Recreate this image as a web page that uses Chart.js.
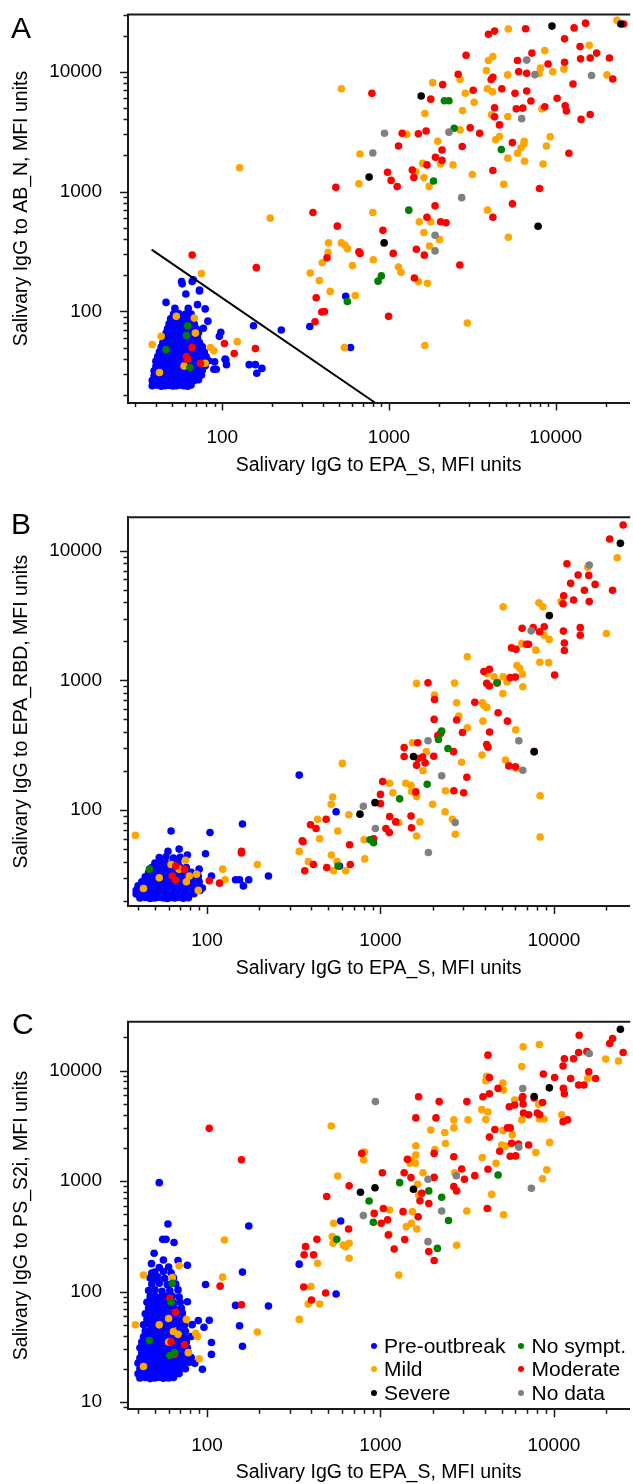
<!DOCTYPE html>
<html lang="en">
<head>
<meta charset="UTF-8">
<title>Salivary IgG vs EPA_S</title>
<script src="https://cdn.jsdelivr.net/npm/chart.js"></script>
<style>
  html, body { margin: 0; padding: 0; background: #fff; }
  body { position: relative; width: 633px; height: 1484px; overflow: hidden;
         font-family: "Liberation Sans", Arial, sans-serif; color: #000; }
  canvas { position: absolute; left: 0; }
  .tag { position: absolute; font-size: 30px; line-height: 30px; }
  .item { position: absolute; font-size: 21px; line-height: 24px; white-space: nowrap; }
  .dot { position: absolute; width: 6px; height: 6px; border-radius: 50%; }
</style>
</head>
<body>
<canvas id="chartA" width="633" height="490" style="top:0px"></canvas>
<canvas id="chartB" width="633" height="490" style="top:500px"></canvas>
<canvas id="chartC" width="633" height="489" style="top:995px"></canvas>
<div class="tag" style="left:11px;top:13px">A</div>
<div class="tag" style="left:11px;top:509px">B</div>
<div class="tag" style="left:12px;top:1009px">C</div>
<div id="legend"></div>

<script>
// ---- categories / colours ----
const categories = ['Pre-outbreak', 'No sympt.', 'Mild', 'Moderate', 'Severe', 'No data'];
const categoryColors = ['#0000ff', '#008000', '#ffa500', '#ff0000', '#000000', '#808080'];

const xTitle = 'Salivary IgG to EPA_S, MFI units';
const aYTitle = 'Salivary IgG to AB_N, MFI units';
const bYTitle = 'Salivary IgG to EPA_RBD, MFI units';
const cYTitle = 'Salivary IgG to PS_S2i, MFI units';

// axis ranges (log scales)
const aXRange = [27.2, 27600], aYRange = [17.4, 30000];
const bXRange = [35, 27200],   bYRange = [18.2, 18100];
const cXRange = [35, 27200],   cYRange = [8.6, 27700];

// ---- panel A: AB_N vs EPA_S ----
const aCutoff = [[37.7, 328], [822, 17.4]];

const aPre = [
  [550,134],[335,75],[226,70],[154,76],[588,50],[145,36],[158,36],[173,33.5],[161,30.5],[98,67],
  [96,62],[104,40],[106,36],[92,33],[89,33],[90,38],[105,39.5],[82,83],[79,105],[71,114],
  [73,148],[66,178],[57,178],[57.5,170],[60.5,140],[46,119],[52,106],[62.5,106],[67,184],[73,151],
  [38,24],[40.5,24.3],[43,23.8],[45.5,24],[48,24.2],[50.5,23.9],[53,24],[56,24.3],[59,24],[62,23.8],[65,24.4],
  [38,26.5],[40.5,26.8],[43,26.4],[45.5,26.5],[48,26.9],[50.5,26.5],[53,26.3],[56,26.7],[59,26.5],[62,26.4],[65,26.8],[68,26.5],[72,26.9],
  [39,29],[41.5,29.3],[44,28.8],[46.5,29],[49,29.4],[52,29],[55,28.8],[58,29.2],[61,29],[64,29.3],[67,28.9],[71,29],[75,29.5],
  [39,32],[41.5,32.4],[44,31.8],[46.5,32],[49,32.3],[52,32],[55,31.7],[58,32.2],[61,32],[64,32.4],[67,31.8],[71,32],[76,32.5],
  [40,35],[42.5,35.3],[45,34.8],[48,35],[51,35.4],[54,35],[57,34.7],[60,35.2],[63,35],[66,35.5],[70,34.8],[74,35],[79,35.3],
  [40,38.5],[43,38.9],[46,38.3],[49,38.5],[52,39],[55,38.4],[58,38.5],[61,38.9],[64,38.4],[68,38.5],[72,39],[77,38.5],[83,38.8],
  [41,42],[44,42.4],[47,41.8],[50,42],[53,42.5],[56,42],[59,41.7],[62,42.3],[66,42],[70,42.5],[75,41.8],[80,42],
  [42,46],[45,46.4],[48,45.8],[51,46],[54,46.6],[57,46],[60,45.7],[64,46.3],[68,46],[73,46.5],[78,45.8],
  [43,50.5],[46,51],[49,50.2],[52,50.5],[55,51],[58,50.4],[62,50.5],[66,51],[70,50.3],[76,50.8],
  [44,55],[47,55.6],[50,54.8],[53,55],[56,55.5],[60,55],[64,54.7],[68,55.4],[73,55],
  [45,60],[48,60.6],[51,59.7],[54,60],[58,60.5],[62,60],[66,59.8],[71,60.4],
  [46,66],[49,66.6],[52,65.6],[55,66],[59,66.7],[63,66],[67,65.5],[72,66.3],
  [47,72],[50,72.7],[53,71.6],[57,72],[61,72.8],[65,72],[70,71.5],[77,72.4],
  [48,79],[51,79.8],[55,78.6],[59,79],[63,79.6],[68,78.7],
  [49,87],[53,87.8],[57,86.5],[62,87],[67,87.6],
  [51,95],[55,95.8],[60,94.5],[65,95]
];
const aNoSympt = [[2150,5720],[2290,5720],[2460,3370],[4720,2240],[1850,1225],[1315,700],[900,198],[860,179],
  [563,121],[46,48],[62,76],[61,63],[64,34]];
const aMild = [
  [23300,26800],[5200,22700],[8600,15000],[15900,16600],[4200,13400],[3950,12400],[3840,10200],[2670,8600],
  [5150,9400],[8100,10700],[7950,9660],[9600,10000],[11200,10500],[20300,9400],[1830,8100],[3900,7200],
  [4170,6800],[2870,6600],[518,7200],[3240,5550],[2760,4750],[1640,4480],[4120,4370],[5160,4230],
  [8270,4900],[2670,3270],[1280,3000],[4600,2880],[4370,2700],[9260,2860],[6470,2630],[6440,2490],
  [1960,2630],[8800,2400],[6180,2310],[5900,2090],[670,2060],[5160,1900],[6500,1790],[8400,1700],
  [1590,1720],[2040,1700],[2420,1670],[3160,1390],[1450,1460],[127,1580],[1620,1310],[1740,1100],
  [4880,1150],[660,1160],[800,670],[3900,700],[1780,560],[1520,560],[194,600],[1620,455],
  [2010,397],[5200,416],[434,373],[518,373],[545,356],[563,334],[431,310],[1750,352],
  [398,255],[604,242],[805,270],[1140,235],[1180,212],[337,209],[382,181],[1505,177],
  [1700,172],[444,147],[628,136],[75,207],[2950,80],[540,50],[1640,52],[123,56],
  [38,53],[43,62],[53,91],[68,88],[69,66],[85,50],[89,47],[59,35],[42,31],[79,37]
];
const aModerate = [
  [3950,20500],[4300,21800],[6600,22800],[11300,18800],[12900,23200],[15100,25400],[14000,16200],[17600,14300],
  [14100,12800],[16100,13000],[21000,13000],[22000,8700],[12700,7900],[10200,6000],[11400,5200],[11600,4700],
  [14200,4000],[16100,4400],[11300,12000],[9000,11600],[7200,14300],[5900,12400],[6000,10000],[6700,9700],
  [4750,7200],[4200,9000],[4100,8600],[5700,6600],[6700,6900],[7100,5700],[3200,7000],[2600,9500],
  [2100,7800],[2900,13700],[790,6600],[1780,5900],[4300,5000],[4300,4200],[4600,3600],[5800,4900],
  [6350,4970],[8600,5100],[3070,3400],[3500,3070],[1200,3070],[1500,3030],[1670,3200],[5500,2560],
  [1140,2400],[2750,2380],[2080,2220],[12000,2090],[1900,1930],[2080,1820],[1690,1670],[980,1450],
  [1380,1510],[1410,1310],[4200,1500],[1030,1240],[1120,1100],[480,1085],[8000,1060],[350,670],
  [5500,790],[1890,760],[4200,610],[1690,610],[2040,560],[2200,550],[490,515],[920,475],
  [660,315],[670,305],[1060,305],[1460,330],[1630,295],[425,280],[66,296],[2660,244],
  [160,232],[1420,190],[366,130],[395,99],[410,100],[360,82],[995,91],[158,49],
  [118,44.5],[103,54],[66,50],[61,42],[62,40],[74,37],[25600,25000]
];
const aSevere = [[9500,24000],[24600,25000],[1560,6270],[760,1320],[935,373],[7840,514]];
const aNoData = [[6700,12500],[7500,9450],[16400,9300],[6250,4060],[2290,3130],[940,3070],[800,2100],
  [2730,890],[1890,432],[1890,320]];

// ---- panel B: EPA_RBD vs EPA_S ----
const bPre = [
  [340,186],[555,97],[160,78],[104,67],[62,69],[98,46],[69,50],[59.5,48],[90,35],[94,25],
  [106,31],[146,29],[154,29],[174,29],[162,26],[226,31],[580,37],[77,45],
  [41,21],[44,21.2],[47,20.8],[50,21],[53,21.3],[56,21],[59,20.8],[62,21.2],[65,21],[69,21.3],[73,20.9],[78,21.1],
  [39,22.5],[42,22.8],[45,22.3],[48,22.5],[51,22.9],[54,22.4],[57,22.5],[60,22.8],[63,22.3],[66,22.6],[70,22.5],[74,22.9],[79,22.4],[84,22.6],
  [39,24],[42,24.3],[45,23.8],[48,24],[51,24.4],[54,23.9],[57,24],[60,24.3],[63,23.8],[66,24.1],[70,24],[74,24.4],[79,23.9],[85,24.2],[91,24],
  [40,26],[43,26.3],[46,25.8],[49,26],[52,26.4],[55,25.9],[58,26],[61,26.4],[64,25.8],[68,26.1],[72,26],[77,26.4],[83,25.9],[90,26.2],
  [42,28],[45,28.4],[48,27.8],[51,28],[54,28.5],[57,27.9],[60,28],[63,28.4],[67,27.8],[71,28.2],[76,28],[82,28.5],[90,28.1],
  [44,30.5],[47,30.9],[50,30.2],[53,30.5],[56,31],[59,30.4],[63,30.5],[67,30.9],[71,30.3],[76,30.6],[82,30.5],[89,30.8],
  [46,33],[49,33.4],[52,32.7],[55,33],[58,33.5],[62,32.9],[66,33],[70,33.4],[75,32.8],[81,33.1],
  [48,36],[51,36.5],[54,35.7],[57,36],[61,36.5],[65,35.8],[70,36.2],[76,36],
  [50,39],[54,39.5],[58,38.7],[63,39.2],[68,39],
  [53,43],[58,43.6],[64,42.7],[70,43.2]
];
const bNoSympt = [[2255,406],[2160,350],[2450,298],[1860,158],[1290,122],[870,59],[913,56],[570,37],[4700,960],[46.5,35]];
const bMild = [
  [23200,8830],[20100,2300],[15700,7440],[8200,3970],[8650,3690],[11000,4050],[5100,3690],[8800,2230],
  [9400,2070],[6530,1920],[7870,1710],[8300,1380],[9330,1370],[6130,1300],[6360,1240],[6590,1120],
  [6620,894],[5100,1067],[5370,971],[4520,1067],[4720,971],[5080,793],[3170,1520],[4110,1130],
  [3870,673],[3950,640],[4110,619],[2750,672],[2830,530],[3900,485],[3170,431],[6030,415],
  [3850,266],[5260,243],[6080,210],[1615,948],[2675,953],[2050,770],[1530,330],[1840,282],
  [1760,201],[2940,234],[1500,155],[1510,139],[1400,161],[1600,134],[1616,127],[2000,111],
  [2370,141],[1690,81],[1615,63],[2360,97],[2600,85],[2700,65],[1130,161],[1180,136],
  [1275,80],[805,59],[812,42],[657,92],[567,69],[562,40],[537,34],[530,126],
  [520,111],[603,229],[434,85],[446,60],[521,45],[340,48],[384,40],[630,34],
  [8330,129],[8330,62],[38.6,64],[43,24.8],[53,30],[62,38],[69,35],[75,41],
  [76,28],[79,31],[89,24],[87,32],[123,35],[127,29],[195,38]
];
const bModerate = [
  [25100,15800],[21000,12300],[11900,7940],[13800,6500],[12500,5600],[15900,6450],[17300,5500],[15000,4950],
  [21800,4950],[11400,4500],[13000,4165],[16000,4050],[11300,3900],[7600,2550],[8800,2590],[8270,2370],
  [6560,2520],[6950,1900],[7150,1900],[11350,2400],[14200,2550],[14200,2230],[11500,1940],[11500,1700],
  [10100,1100],[5700,1780],[6050,1740],[3950,1170],[4250,1220],[5600,1050],[6000,1060],[4100,948],
  [4250,905],[4720,955],[1880,957],[2050,712],[3500,677],[2040,500],[2750,495],[4770,563],
  [5400,485],[4260,400],[2970,396],[4100,320],[4170,305],[2140,375],[2220,390],[1640,330],
  [1370,303],[1370,259],[1650,250],[1750,256],[2030,260],[1810,231],[1615,222],[2640,282],
  [3150,179],[2650,141],[3020,136],[1600,138],[1030,166],[1000,132],[1000,112],[1130,89],
  [1225,81],[1075,72],[1125,67],[1500,90],[1510,73],[486,85],[395,77],[425,72],
  [354,58],[358,57],[664,54],[914,60],[411,38],[490,36],[366,34],[670,38],
  [66,37],[74,35],[63,31],[66,28.7],[118,27.3],[103,28.5],[158,46.6],[158,48],
  [7700,282],[6000,216],[5500,219]
];
const bSevere = [[24200,11400],[9420,3160],[1550,259],[930,114],[762,93],[7700,282]];
const bNoData = [[16000,7750],[7400,2410],[6280,342],[6620,203],[2255,184],[1880,342],[797,107],
  [935,72],[1890,47],[2700,80]];

// ---- panel C: PS_S2i vs EPA_S ----
const cPre = [
  [340,177],[590,435],[555,95],[226,74],[146,75],[154,49],[160,32],[160,150],[174,392],[98,116],
  [103,55],[106,34.6],[106,27],[96,47.6],[94,19.8],[89,54.6],[53,968],[59.5,409],[55.5,297],[58,297],
  [64.5,278],[56,193],[49.5,222],[47.8,179],[68,191],[77,173],[48,147],[49,128],
  [41,16.5],[44,16.7],[47,16.3],[50,16.5],[53,16.8],[56,16.4],[60,16.5],[64,16.7],
  [40,18],[43,18.3],[46,17.8],[49,18],[52,18.4],[55,17.9],[58,18],[61,18.3],[65,17.8],[69,18.1],
  [41,20],[44,20.3],[47,19.8],[50,20],[53,20.4],[56,19.8],[59,20],[62,20.3],[66,19.8],[70,20.1],[75,20],
  [40,22.5],[43,22.8],[46,22.3],[49,22.5],[52,22.9],[55,22.3],[58,22.5],[61,22.8],[64,22.3],[68,22.6],[73,22.5],[79,22.9],[85,22.4],
  [41,25],[44,25.4],[47,24.8],[50,25],[53,25.4],[56,24.8],[59,25],[62,25.4],[66,24.8],[70,25.2],[75,25],[81,25.3],
  [42,28],[45,28.4],[48,27.7],[51,28],[54,28.5],[57,27.8],[60,28],[64,28.4],[68,27.8],[73,28.2],[78,28],
  [41,31],[44,31.5],[47,30.7],[50,31],[53,31.5],[56,30.8],[59,31],[63,31.4],[67,30.8],[72,31.2],[77,31],
  [42,35],[45,35.5],[48,34.6],[51,35],[54,35.6],[57,34.7],[61,35],[65,35.5],[70,34.8],[76,35.2],
  [43,39],[46,39.6],[49,38.6],[52,39],[55,39.7],[59,38.7],[63,39],[68,39.5],[74,38.8],[81,39.2],
  [44,44],[47,44.7],[50,43.5],[53,44],[56,44.8],[60,43.6],[64,44],[69,44.6],[75,43.8],
  [43,50],[46,50.8],[49,49.4],[52,50],[55,50.8],[59,49.5],[63,50],[68,50.7],[74,49.6],[82,50.2],
  [45,56],[48,56.8],[51,55.3],[54,56],[58,56.9],[62,55.4],[67,56],[73,56.6],
  [44,63],[47,64],[50,62.2],[53,63],[57,64],[61,62.3],[66,63],[72,63.8],
  [46,71],[49,72],[52,70.2],[56,71],[60,72],[65,70.3],[71,71],
  [45,80],[48,81],[51,79],[55,80],[59,81.2],[64,79.2],[70,80],[77,80.8],
  [47,90],[50,91.3],[54,89],[58,90],[63,91.2],[69,89.3],
  [46,102],[50,104],[55,100.5],[61,102],[68,103.5],
  [48,117],[53,119],[59,115.5],[66,117],
  [47,133],[52,135],[57,131],[64,133],
  [50,150],[56,152],[62,148],
  [53,165],[60,167]
];
const cNoSympt = [[1290,968],[4770,1135],[1900,815],[2255,714],[860,661],[910,424],[2470,440],[560,297],
  [2130,246],[46.5,36],[63,119],[62,80],[61,26.4],[65,28]];
const cMild = [
  [19900,12700],[23600,12200],[15700,8470],[6650,16400],[6530,10900],[8250,17200],[4100,8900],[4050,8080],
  [4170,4220],[4050,3600],[3840,4430],[5080,7700],[5130,6660],[5940,5420],[8180,4950],[8250,3650],
  [8780,3650],[11100,3990],[9450,2240],[9100,1265],[8600,1050],[7870,1810],[6530,3580],[5760,2620],
  [5080,2860],[5000,2120],[5250,2070],[4640,1450],[3860,1630],[4380,758],[5130,495],[3150,536],
  [3200,3580],[2650,3580],[2650,3030],[2370,2190],[2350,2750],[1950,2900],[2060,1925],[1600,2090],
  [1600,1720],[1510,1550],[1480,1450],[1590,1450],[1760,1190],[1640,934],[1660,752],[2680,1190],
  [1530,529],[1510,415],[1410,387],[1620,368],[1130,548],[2750,262],[1275,141],[1120,330],
  [810,1830],[800,1550],[567,1110],[520,3150],[537,415],[527,315],[533,274],[610,264],
  [630,255],[660,274],[660,200],[434,180],[397,111],[383,77],[446,77],[340,56],
  [195,43],[126,293],[123,135],[38.6,50],[43,141],[43,21],[63,134],[69,171],
  [53,50],[60,57],[64,43.5],[68,41],[76,56],[86,42],[88,39],[78,28],[90,24.6],[60,35]
];
const cModerate = [
  [25100,14600],[21800,19500],[21000,17600],[14000,20900],[13900,14600],[15500,14900],[11500,12800],[11300,11000],
  [13000,12800],[8700,9300],[10100,8650],[12500,8470],[15900,9770],[17400,8470],[14900,7400],[13900,7400],
  [11350,6900],[11500,6170],[11300,3450],[12000,3580],[4170,13800],[4250,8650],[3900,5800],[4250,6170],
  [4770,6900],[5530,4710],[5940,4880],[6620,5820],[6650,4980],[6680,4130],[7160,3980],[8030,4130],
  [8290,3990],[8610,5130],[7700,5660],[6560,5620],[5400,3030],[5600,3030],[4570,2930],[4250,2500],
  [4870,1860],[5600,1680],[6030,1690],[5700,2200],[6240,2160],[7160,2120],[4170,1280],[4130,564],
  [3150,5240],[3500,1120],[3050,1040],[2940,1285],[2650,1660],[2650,890],[2750,815],[2180,5240],
  [2090,3730],[2040,1780],[1660,5800],[1600,3730],[1430,1575],[1500,1075],[1370,1190],[2040,1080],
  [1730,775],[1690,662],[1650,475],[1900,627],[1350,529],[1380,296],[1900,230],[2040,191],
  [1025,1190],[660,905],[655,368],[490,726],[780,1780],[1040,565],[920,510],[1100,446],
  [1110,325],[1200,243],[1010,415],[430,297],[363,215],[411,215],[370,255],[361,110],
  [400,84],[483,97],[119,112],[103,3000],[158,1560],[158,76],[61,87],[66,65],
  [62,35],[65,27],[74,33]
];
const cSevere = [[24200,23700],[9420,6980],[7700,5820],[767,792],[930,871],[1550,843]];
const cNoData = [[16000,14300],[6620,6890],[6280,2030],[7420,860],[935,5240],[2740,1120],[1880,1040],
  [2255,536],[797,487],[1880,283]];

// ---- helpers ----
Chart.defaults.font.family = '"Liberation Sans", Arial, sans-serif';
Chart.defaults.color = '#000';
const FRAME = '#1a1a1a';

function isDecade(v) {
  const l = Math.log10(v);
  return Math.abs(l - Math.round(l)) < 1e-9;
}

// 1..9 x 10^n tick values inside the axis range
function logTicks(min, max) {
  const out = [];
  for (let e = Math.floor(Math.log10(min)); e <= Math.ceil(Math.log10(max)); e++) {
    for (let d = 1; d <= 9; d++) {
      const v = d * Math.pow(10, e);
      if (v >= min && v <= max) out.push(v);
    }
  }
  return out;
}

// top frame line + short/long tick marks
const frameTicks = {
  id: 'frameTicks',
  afterDraw(chart) {
    const { ctx, chartArea: a, scales: { x, y } } = chart;
    ctx.save();
    ctx.strokeStyle = FRAME;
    ctx.lineWidth = 2;
    ctx.beginPath();
    ctx.moveTo(a.left - 1, a.top);
    ctx.lineTo(a.right + 1, a.top);
    ctx.stroke();
    ctx.lineWidth = 1.5;
    x.ticks.forEach(t => {
      const px = Math.round(x.getPixelForValue(t.value)) + 0.5;
      const len = isDecade(t.value) ? 8 : 4.5;
      ctx.beginPath();
      ctx.moveTo(px, a.bottom);
      ctx.lineTo(px, a.bottom + len);
      ctx.stroke();
    });
    y.ticks.forEach(t => {
      const py = Math.round(y.getPixelForValue(t.value)) + 0.5;
      const len = isDecade(t.value) ? 8 : 4.5;
      ctx.beginPath();
      ctx.moveTo(a.left, py);
      ctx.lineTo(a.left - len, py);
      ctx.stroke();
    });
    ctx.restore();
  }
};

function pointSet(label, data, color) {
  return {
    label, data,
    backgroundColor: color, borderColor: color,
    pointBackgroundColor: color, pointBorderWidth: 0,
    pointRadius: 3.8, pointHoverRadius: 3.8,
    showLine: false, clip: false
  };
}

// top-most dataset first (Chart.js draws index 0 last)
function panelSets(pre, noSympt, mild, moderate, severe, noData) {
  const byCat = [pre, noSympt, mild, moderate, severe, noData];
  return [4, 5, 1, 3, 2, 0].map(i => pointSet(categories[i], byCat[i], categoryColors[i]));
}

function makePanel(id, p) {
  const axisTicks = () => ({
    autoSkip: false, maxRotation: 0, minRotation: 0,
    font: { size: 19 }, color: '#000',
    callback: v => isDecade(v) ? String(Math.round(v)) : ''
  });
  return new Chart(document.getElementById(id), {
    type: 'scatter',
    data: { datasets: p.datasets },
    options: {
      responsive: false,
      animation: false,
      events: [],
      layout: { padding: { top: p.padTop, left: 0, right: 0, bottom: 0 } },
      plugins: { legend: { display: false }, tooltip: { enabled: false } },
      scales: {
        x: {
          type: 'logarithmic', position: 'bottom',
          min: p.xRange[0], max: p.xRange[1],
          grid: { display: false },
          border: { display: true, color: FRAME, width: 2 },
          afterBuildTicks: s => { s.ticks = logTicks(p.xRange[0], p.xRange[1]).map(v => ({ value: v })); },
          afterFit: s => { s.height = p.xAxisH; s.paddingLeft = 0; s.paddingRight = 0; },
          ticks: Object.assign(axisTicks(), { padding: p.xTickPad }),
          title: { display: true, text: xTitle, color: '#000', font: { size: 19.5 },
                   padding: { top: 0, bottom: p.xTitlePad } }
        },
        y: {
          type: 'logarithmic', position: 'left',
          min: p.yRange[0], max: p.yRange[1],
          grid: { display: false },
          border: { display: true, color: FRAME, width: 2 },
          afterBuildTicks: s => { s.ticks = logTicks(p.yRange[0], p.yRange[1]).map(v => ({ value: v })); },
          afterFit: s => { s.width = 128; s.paddingTop = 0; s.paddingBottom = 0; },
          ticks: Object.assign(axisTicks(), { padding: 18 }),
          title: { display: true, text: p.yTitle, color: '#000', font: { size: 19.5 },
                   padding: { top: 10, bottom: 0 } }
        }
      }
    },
    plugins: [frameTicks]
  });
}

const aSets = panelSets(aPre, aNoSympt, aMild, aModerate, aSevere, aNoData);
aSets.unshift({
  label: 'cut-off', data: aCutoff, showLine: true,
  borderColor: '#000', borderWidth: 2, pointRadius: 0, pointHoverRadius: 0, clip: false
});

makePanel('chartA', { datasets: aSets, xRange: aXRange, yRange: aYRange, yTitle: aYTitle,
  padTop: 14.5, xAxisH: 87.5, xTickPad: 16, xTitlePad: 13 });
makePanel('chartB', { datasets: panelSets(bPre, bNoSympt, bMild, bModerate, bSevere, bNoData),
  xRange: bXRange, yRange: bYRange, yTitle: bYTitle,
  padTop: 17.3, xAxisH: 84, xTickPad: 15.6, xTitlePad: 10 });
makePanel('chartC', { datasets: panelSets(cPre, cNoSympt, cMild, cModerate, cSevere, cNoData),
  xRange: cXRange, yRange: cYRange, yTitle: cYTitle,
  padTop: 26.7, xAxisH: 74.7, xTickPad: 17, xTitlePad: 0 });

// legend inside panel C, two columns x three rows
const legend = document.getElementById('legend');
const colDot = [373.5, 521], colText = [384, 531.5], rowMid = [1345.5, 1369.3, 1393];
categories.forEach((name, i) => {
  const col = i % 2, row = Math.floor(i / 2);
  const dot = document.createElement('div');
  dot.className = 'dot';
  dot.style.background = categoryColors[i];
  dot.style.left = (colDot[col] - 3) + 'px';
  dot.style.top = (rowMid[row] - 3) + 'px';
  const txt = document.createElement('div');
  txt.className = 'item';
  txt.textContent = name;
  txt.style.left = colText[col] + 'px';
  txt.style.top = (rowMid[row] - 12) + 'px';
  legend.appendChild(dot);
  legend.appendChild(txt);
});
</script>
</body>
</html>
